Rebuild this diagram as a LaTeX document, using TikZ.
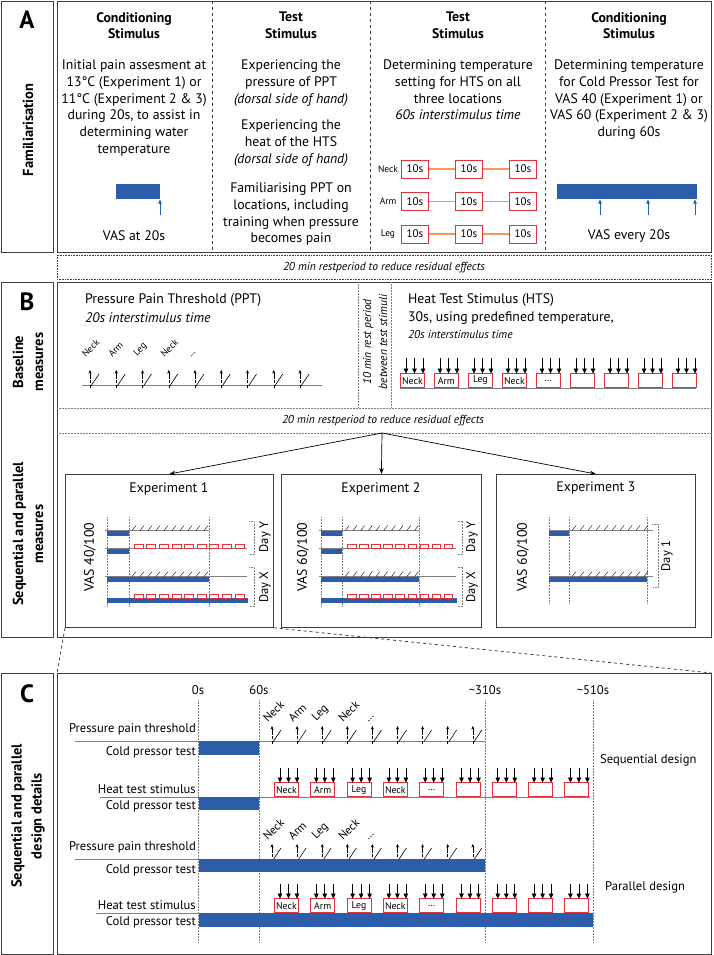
\documentclass[tikz,border=0pt]{standalone}
\usepackage{fontspec}
\setmainfont{PT Sans}
\usetikzlibrary{arrows.meta}
\definecolor{cpblue}{RGB}{44,93,170}
\definecolor{htsred}{RGB}{228,50,58}
\definecolor{linkorange}{RGB}{246,150,88}
\definecolor{framegray}{RGB}{64,64,64}
\tikzset{
  panelframe/.style={draw=framegray,line width=0.9pt},
  panelletter/.style={font=\fontsize{25}{25}\selectfont\bfseries},
  sidelabel/.style={rotate=90,align=center,font=\fontsize{14.5}{20}\selectfont\bfseries},
  colhead/.style={anchor=north,align=center,inner sep=0pt,font=\fontsize{13.8}{16.8}\selectfont\bfseries},
  coltext/.style={anchor=north,align=center,inner sep=0pt,font=\fontsize{13.8}{16.8}\selectfont},
  bodytext/.style={inner sep=0pt,font=\fontsize{13.8}{16.8}\selectfont},
  rowtext/.style={inner sep=0pt,font=\fontsize{12.6}{14}\selectfont},
  restnote/.style={inner sep=0pt,font=\fontsize{11.5}{16}\selectfont\itshape},
  loclabel/.style={inner sep=0pt,font=\fontsize{9.5}{9.5}\selectfont},
  daytext/.style={inner sep=0pt,rotate=90,font=\fontsize{12.5}{12.5}\selectfont},
  tenbox/.style={draw=htsred,line width=0.8pt,minimum width=27pt,minimum height=18pt,inner sep=0pt,font=\fontsize{11}{11}\selectfont},
  htsbox/.style={draw=htsred,line width=0.8pt,minimum width=24pt,minimum height=14pt,inner sep=0pt,font=\fontsize{9.8}{9.8}\selectfont},
  timeline/.style={draw=gray,line width=0.5pt},
  guide/.style={densely dotted,gray,line width=0.5pt},
  stimarrow/.style={-{Triangle[length=5pt,width=4.5pt]},line width=0.7pt},
  vasarrow/.style={cpblue,-{Triangle[length=4pt,width=3.5pt]},line width=0.7pt},
  exframe/.style={draw=framegray,line width=0.8pt,minimum width=208pt,minimum height=153pt,anchor=north west,inner sep=0pt},
}
\newcommand{\pptmark}[2]{%
  \draw[densely dashed,line width=0.45pt] (#1,#2+3) -- (#1,#2-7);
  \draw[-{Stealth[length=3.5pt,width=3pt]},line width=0.5pt] (#1,#2-6) -- (#1,#2-15);
  \draw[line width=0.6pt] (#1+1,#2+1) -- (#1+9,#2-11);
}
\newcommand{\htsmark}[5]{%
  \node[htsbox,anchor=south west] (#1) at (#2,#3) {#4};
  \foreach \dx in {6,14.5,23}
    \draw[stimarrow] (#2+\dx,#3-14-#5) -- (#2+\dx,#3-14.4);
}
\newcommand{\hatchrow}[3]{%
  \foreach \k in {0,...,#3}
    \draw[line width=0.4pt] (#1+8*\k,#2) -- ++(4,-5);
}
\newcommand{\expdesign}{%
  \foreach \gx in {107,129,209}
    \draw[guide] (\gx,517) -- (\gx,607);
  \draw[timeline] (105,530.5) -- (209,530.5);
  \fill[cpblue] (107,530.5) rectangle (129,535.5);
  \hatchrow{132}{530.5}{9}
  \draw[timeline] (105,548.5) -- (247,548.5);
  \fill[cpblue] (107,548.5) rectangle (129,554);
  \foreach \k in {0,...,8}
    \draw[htsred,line width=0.6pt] (134+12.6*\k,544.5) rectangle ++(9,4);
  \draw[timeline] (105,576.5) -- (247,576.5);
  \fill[cpblue] (107,576.5) rectangle (209,581.5);
  \hatchrow{132}{576.5}{9}
  \fill[cpblue] (107,598) rectangle (248,603);
  \foreach \k in {0,...,8}
    \draw[htsred,line width=0.6pt] (134+12.6*\k,594) rectangle ++(9,4);
  \draw[guide] (249,521) -- (254,521) -- (254,554) -- (249,554);
  \draw[guide] (249,567) -- (254,567) -- (254,606) -- (249,606);
}
\begin{document}
\begin{tikzpicture}[x=1pt,y=-1pt]
    \useasboundingbox (0,0) rectangle (713,955);

    \draw[panelframe] (1,1) rectangle (53,252);
    \draw[panelframe] (57,1) rectangle (711.5,252);
    \node[panelletter] (letterA) at (27,20) {A};
    \node[sidelabel] (famlabel) at (28,130) {Familiarisation};
    \foreach \cx in {212,370,545}
        \draw[dashed,framegray,line width=0.6pt] (\cx,1) -- (\cx,252);

    \node[colhead] (cs1head) at (134,12) {Conditioning\\Stimulus};
    \node[coltext] (cs1text) at (134,59.5) {Initial pain assesment at\\13\textdegree{}C (Experiment 1) or\\11\textdegree{}C (Experiment 2 \& 3)\\during 20s, to assist in\\determining water\\temperature};
    \fill[cpblue] (116,184) rectangle (160,199);
    \coordinate (vas1) at (160,215);
    \draw[vasarrow] (vas1) -- (160,199.5);
    \node[bodytext] (vas1text) at (134,236) {VAS at 20s};

    \node[colhead] (ts1head) at (291,12) {Test\\Stimulus};
    \node[coltext] (ts1a) at (291,59.5) {Experiencing the\\pressure of PPT\\\textit{(dorsal side of hand)}};
    \node[coltext] (ts1b) at (291,119.5) {Experiencing the\\heat of the HTS\\\textit{(dorsal side of hand)}};
    \node[coltext] (ts1c) at (291,182.5) {Familiarising PPT on\\locations, including\\training when pressure\\becomes pain};

    \node[colhead] (ts2head) at (458,12) {Test\\Stimulus};
    \node[coltext] (ts2text) at (458,59.5) {Determining temperature\\setting for HTS on all\\three locations\\\textit{60s interstimulus time}};
    \foreach \loc/\yy [count=\rw] in {Neck/169,Arm/201.5,Leg/234}{
        \node[loclabel] (loc\rw) at (388,\yy) {\loc};
        \node[tenbox] (ten\rw-a) at (415,\yy) {10s};
        \node[tenbox] (ten\rw-b) at (469,\yy) {10s};
        \node[tenbox] (ten\rw-c) at (523,\yy) {10s};
        \draw[linkorange,line width=1.4pt] (ten\rw-a.east) -- (ten\rw-b.west);
        \draw[linkorange,line width=1.4pt] (ten\rw-b.east) -- (ten\rw-c.west);
    }

    \node[colhead] (cs2head) at (629,12) {Conditioning\\Stimulus};
    \node[coltext] (cs2text) at (629,59.5) {Determining temperature\\for Cold Pressor Test for\\VAS 40 (Experiment 1) or\\VAS 60 (Experiment 2 \& 3)\\during 60s};
    \fill[cpblue] (557,184) rectangle (697,199);
    \foreach \ax in {600,648,695}
        \draw[vasarrow] (\ax,215) -- (\ax,199.5);
    \node[bodytext] (vas2text) at (629,236) {VAS every 20s};

    \draw[densely dotted,framegray,line width=0.6pt] (57,255) rectangle (711.5,279);
    \node[restnote] (rest1) at (384,267.5) {20 min restperiod to reduce residual effects};

    \draw[panelframe] (1,282) rectangle (53,637);
    \draw[panelframe] (57,282) rectangle (711.5,637);
    \node[panelletter] (letterB) at (27,302) {B};
    \node[sidelabel] (baselabel) at (28,362) {Baseline\\measures};
    \node[sidelabel] (seqlabel) at (28,534) {Sequential and parallel\\measures};

    \node[bodytext,anchor=west] (ppttitle) at (85,300) {Pressure Pain Threshold (PPT)};
    \node[bodytext,anchor=west,font=\fontsize{13.8}{16.8}\selectfont\itshape] (pptnote) at (85,318) {20s interstimulus time};
    \draw[timeline] (82,385) -- (322,385);
    \foreach \i in {0,...,8}{
        \pptmark{90+26.25*\i}{385}
    }
    \foreach \lbl [count=\i from 0] in {Neck,Arm,Leg,Neck,\dots}
        \node[loclabel,rotate=45,anchor=south west] (pb\i) at (86+26.25*\i,358) {\lbl};

    \draw[densely dotted,gray,line width=0.5pt] (358,282) -- (358,408);
    \draw[densely dotted,gray,line width=0.5pt] (391,282) -- (391,408);
    \node[restnote,rotate=90,align=center] (tenmin) at (375,342) {10 min rest period\\between test stimuli};

    \node[bodytext,anchor=west] (htstitle) at (408,300) {Heat Test Stimulus (HTS)};
    \node[bodytext,anchor=west] (htsdur) at (408,318) {30s, using predefined temperature,};
    \node[restnote,anchor=west] (htsnote) at (408,334) {20s interstimulus time};
    \draw[timeline] (400,388) -- (696,388);
    \foreach \lbl [count=\i from 0] in {Neck,Arm,Leg,Neck,\dots,{},{},{},{}}{
        \htsmark{hb\i}{400+34*\i}{388}{\lbl}{16}
    }

    \draw[densely dotted,gray,line width=0.5pt] (57,408) -- (711.5,408);
    \draw[densely dotted,gray,line width=0.5pt] (57,433) -- (711.5,433);
    \node[restnote] (rest2) at (383,421) {20 min restperiod to reduce residual effects};

    \node[exframe] (exp1) at (65,474) {};
    \node[exframe,minimum width=200pt] (exp2) at (281,474) {};
    \node[exframe,minimum width=199pt] (exp3) at (496,474) {};
    \coordinate (split) at (382,433);
    \foreach \e in {exp1,exp2,exp3}
        \draw[-{Stealth[length=6pt,width=4.5pt]},line width=0.7pt] (split) -- (\e.north);

    \node[bodytext] (exp1title) at (169,489) {Experiment 1};
    \node[bodytext] (exp2title) at (381,489) {Experiment 2};
    \node[bodytext] (exp3title) at (596,488) {Experiment 3};

    \expdesign
    \begin{scope}[xshift=218.5pt,xscale=0.961]
        \expdesign
    \end{scope}
    \node[bodytext,rotate=90] (vas40) at (90,557) {VAS 40/100};
    \node[bodytext,rotate=90] (vas60a) at (303,557) {VAS 60/100};
    \node[bodytext,rotate=90] (vas60b) at (523,557) {VAS 60/100};
    \node[daytext] (dayY1) at (265,537) {Day Y};
    \node[daytext] (dayX1) at (265,587) {Day X};
    \node[daytext] (dayY2) at (472,537) {Day Y};
    \node[daytext] (dayX2) at (472,587) {Day X};

    \foreach \gx in {549,569,647}
        \draw[guide] (\gx,517) -- (\gx,604);
    \draw[timeline] (549,530.5) -- (653,530.5);
    \fill[cpblue] (549,530.5) rectangle (569,535.5);
    \hatchrow{572}{530.5}{9}
    \draw[timeline] (549,576.5) -- (653,576.5);
    \fill[cpblue] (549,576.5) rectangle (647,582);
    \hatchrow{572}{576.5}{9}
    \draw[guide] (652,524) -- (658,524) -- (658,587) -- (652,587);
    \node[daytext] (day1) at (667,556) {Day 1};

    \draw[panelframe] (1,673) rectangle (53,954);
    \coordinate (cnw) at (57,673);
    \coordinate (cne) at (711.5,673);
    \draw[panelframe] (cnw) rectangle (711.5,954);
    \draw[dashed,framegray,line width=0.8pt] (exp1.south west) -- (cnw);
    \draw[dashed,framegray,line width=0.8pt] (exp1.south east) -- (cne);
    \node[panelletter] (letterC) at (27,694) {C};
    \node[sidelabel] (designlabel) at (28,816) {Sequential and parallel\\design details};

    \foreach \tx/\tl in {198/0s,259/60s,485/\textasciitilde310s,593/\textasciitilde510s}{
        \draw[guide] (\tx,700) -- (\tx,942);
        \node[rowtext] (time\tx) at (\tx,690) {\tl};
    }

    \foreach \yy/\lx in {741/75,859/75}{
        \draw[timeline] (\lx,\yy) -- (485,\yy);
        \node[rowtext,anchor=east] (ppt\yy) at (196,\yy-12) {Pressure pain threshold};
        \node[rowtext,anchor=east] (cpta\yy) at (196,\yy+11) {Cold pressor test};
        \foreach \i in {0,...,8}{
            \pptmark{272+25.1*\i}{\yy}
        }
        \foreach \lbl [count=\i from 0] in {Neck,Arm,Leg,Neck,\dots}
            \node[loclabel,font=\fontsize{11.5}{11.5}\selectfont,rotate=45,anchor=south west] (pc\yy-\i) at (268+25.1*\i,\yy-18) {\lbl};
    }
    \foreach \yy/\lx in {797/100,913/96}{
        \draw[timeline] (\lx,\yy) -- (590,\yy);
        \node[rowtext,anchor=east] (heat\yy) at (196,\yy-8) {Heat test stimulus};
        \node[rowtext,anchor=east] (cptb\yy) at (196,\yy+9) {Cold pressor test};
        \foreach \lbl [count=\i from 0] in {Neck,Arm,Leg,Neck,\dots,{},{},{},{}}{
            \htsmark{hc\yy-\i}{274+36.3*\i}{\yy}{\lbl}{15}
        }
    }
    \fill[cpblue] (199,741) rectangle (259,755);
    \fill[cpblue] (199,797) rectangle (259,810);
    \fill[cpblue] (199,859) rectangle (485,872);
    \fill[cpblue] (199,913) rectangle (593,927);

    \node[rowtext,anchor=west] (seqdesign) at (600,760) {Sequential design};
    \node[rowtext,anchor=west] (pardesign) at (605,887) {Parallel design};
\end{tikzpicture}
\end{document}
